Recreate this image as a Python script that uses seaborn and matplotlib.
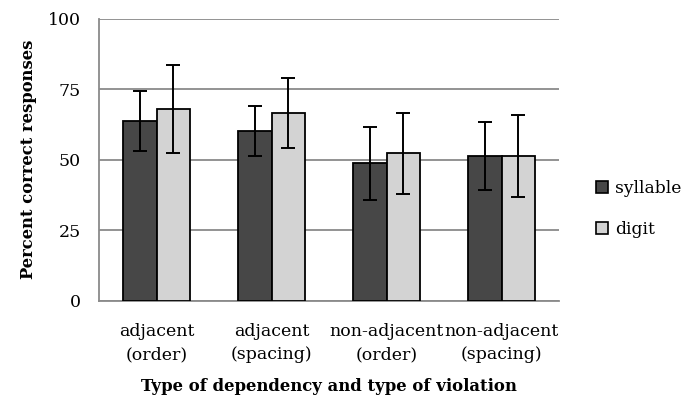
import matplotlib
matplotlib.use("Agg")
import matplotlib.pyplot as plt
import seaborn as sns
import pandas as pd
import numpy as np
from matplotlib.patches import Patch

categories = ["adjacent\n(order)", "adjacent\n(spacing)", "non-adjacent\n(order)", "non-adjacent\n(spacing)"]
series = ["syllable", "digit"]
syllable_vals = [63.7, 60.3, 48.8, 51.3]
digit_vals = [67.9, 66.7, 52.3, 51.3]
syllable_err = [10.5, 8.9, 12.9, 12.0]
digit_err = [15.5, 12.4, 14.3, 14.5]
yticks = [0, 25, 50, 75, 100]

sns.set_theme(style="white")
plt.rcParams['font.family'] = ['DejaVu Serif']
plt.rcParams['text.color'] = 'black'
plt.rcParams['xtick.color'] = 'black'
plt.rcParams['ytick.color'] = 'black'
plt.rcParams['axes.labelcolor'] = 'black'

df = pd.DataFrame({
    "cat": categories * 2,
    "series": [series[0]] * 4 + [series[1]] * 4,
    "val": syllable_vals + digit_vals,
})

colors = {"syllable": "#474747", "digit": "#d3d3d3"}

fig = plt.figure(figsize=(6.94, 3.95), dpi=100)
ax = fig.add_axes([0.1427, 0.238, 0.663, 0.715])

sns.barplot(data=df, x="cat", y="val", hue="series", order=categories,
            hue_order=series, palette=colors, width=0.58, errorbar=None,
            edgecolor="black", linewidth=1.3, legend=False, ax=ax, zorder=3)

errs = [syllable_err, digit_err]
for cont, err in zip(ax.containers, errs):
    xs = [p.get_x() + p.get_width() / 2 for p in cont.patches]
    hs = [p.get_height() for p in cont.patches]
    ax.errorbar(xs, hs, yerr=err, fmt="none", ecolor="black", elinewidth=1.4,
                capsize=5, capthick=1.4, zorder=4)

ax.set_ylim(0, 100)
ax.set_xlim(-0.5, 3.5)
ax.set_yticks(yticks)
ax.set_yticklabels([str(t) for t in yticks], fontsize=12.5)
ax.yaxis.grid(True, color="#8a8a8a", linewidth=1.3, zorder=0)
ax.set_axisbelow(True)
ax.set_xticks(range(4))
ax.set_xticklabels(categories, fontsize=12.5, linespacing=1.45)
ax.set_xticks(np.arange(-0.5, 4.0, 1.0), minor=True)
ax.tick_params(axis="x", which="major", length=0, pad=16)
ax.tick_params(axis="x", which="minor", length=6, width=1.3, color="#8a8a8a", direction="out")
ax.tick_params(axis="y", which="major", length=6, width=1.3, color="#8a8a8a", direction="out", pad=7)

for s in ["top", "right"]:
    ax.spines[s].set_visible(False)
for s in ["left", "bottom"]:
    ax.spines[s].set_color("#8a8a8a")
    ax.spines[s].set_linewidth(1.3)

ax.set_ylabel("Percent correct responses", fontsize=11.8, fontweight="bold", labelpad=8)
ax.set_xlabel("Type of dependency and type of violation", fontsize=11.9, fontweight="bold", labelpad=11)

handles = [Patch(facecolor=colors[s], edgecolor="black", linewidth=1.2, label=s) for s in series]
fig.legend(handles=handles, loc="center left", bbox_to_anchor=(0.836, 0.47),
           frameon=False, fontsize=12.3, handlelength=0.7, handleheight=0.7,
           handletextpad=0.45, labelspacing=1.4)

fig.savefig("out.png", dpi=100)
